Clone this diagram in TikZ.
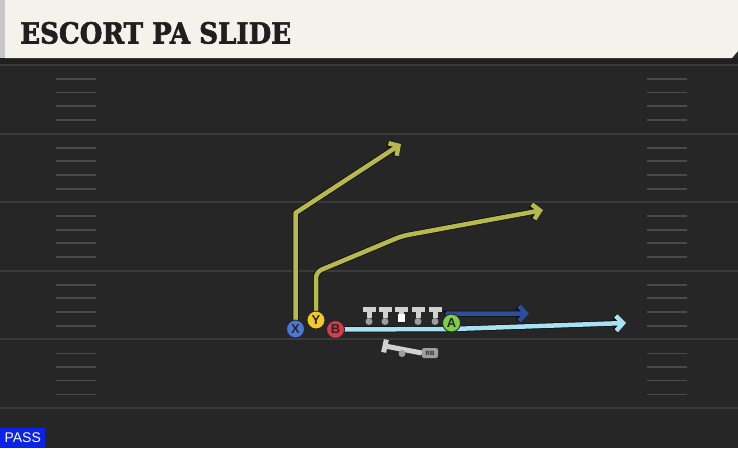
\documentclass[tikz,border=0pt]{standalone}
\usepackage{fontspec}
\usepackage{graphicx}
\newfontfamily\titlefont[BoldFeatures={FakeBold=2.2}]{DejaVu Serif}
\newfontfamily\labelfont{Liberation Sans}
\usetikzlibrary{arrows.meta,calc}
\definecolor{fieldbg}{HTML}{262626}
\definecolor{bannerbg}{HTML}{F4F2EA}
\definecolor{lineink}{HTML}{3A3A3A}
\definecolor{xblue}{HTML}{4A78D8}
\definecolor{yyellow}{HTML}{F5C82A}
\definecolor{bred}{HTML}{D93A45}
\definecolor{agreen}{HTML}{7BD146}
\definecolor{olive}{HTML}{B7B94D}
\definecolor{navy}{HTML}{2C4E9C}
\definecolor{skyblue}{HTML}{A6E2F4}
\definecolor{passblue}{HTML}{0B23E6}
\pgfdeclarelayer{field}
\pgfdeclarelayer{routes}
\pgfsetlayers{field,routes,main}
\tikzstyle{yardline} = [draw=lineink, line width=2pt]
\tikzstyle{hashmark} = [draw=lineink!92!white, line width=1.8pt]
\tikzstyle{player} = [circle, draw=black!85, line width=0.9pt, minimum size=18pt,
    inner sep=0pt, text=black!85, font=\labelfont\bfseries\fontsize{13}{13}\selectfont]
\tikzstyle{route} = [line width=4.5pt, line join=round,
    -{Straight Barb[length=7pt,width=15pt]}, preaction={draw=black!95, line width=6pt}]
\tikzstyle{tbar} = [rectangle, fill=black!18, minimum width=13pt, minimum height=5pt, inner sep=0pt]
\tikzstyle{tfoot} = [circle, fill=black!38, minimum size=7pt, inner sep=0pt]
\tikzstyle{tstem} = [draw=black!18, line width=5pt]

\begin{document}
\begin{tikzpicture}[x=1pt, y=-1pt]
    \useasboundingbox (0,0) rectangle (738,448);
    % Field
    \begin{pgfonlayer}{field}
    \fill[fieldbg] (0,0) rectangle (738,448);
    \fill[black!88] (0,58) rectangle (738,64);
    \fill[black!22] (0,0) rectangle (5,58);
    \fill[bannerbg] (5,0) -- (738,0) -- (738,51) -- (732,58) -- (5,58) -- cycle;
    \foreach \k in {0,...,5} {
        \path[yardline] (0,65+68.6*\k) -- (738,65+68.6*\k);
    }
    \foreach \k in {0,...,4} {
        \foreach \d in {14,27.5,41,55} {
            \path[hashmark] (56,65+68.6*\k+\d) -- (96,65+68.6*\k+\d);
            \path[hashmark] (647,65+68.6*\k+\d) -- (687,65+68.6*\k+\d);
        }
    }
    \end{pgfonlayer}
    % Title and tag
    \node[anchor=base west, inner sep=0pt, text=black!88,
        font=\titlefont\bfseries\fontsize{29}{29}\selectfont] (title) at (20,43.5)
        {\scalebox{0.9}[1]{ESCORT PA SLIDE}};
    \node[anchor=south west, fill=passblue, text=white, minimum width=45pt, minimum height=20pt,
        inner sep=0pt, font=\labelfont\fontsize{14}{14}\selectfont] (playtype) at (0,448) {PASS};
    % Place players
    \node[player, fill=xblue] (X) at (295.5,329) {X};
    \node[player, fill=yyellow] (Y) at (316,320) {Y};
    \node[player, fill=bred] (B) at (335.5,329.5) {B};
    \node[player, fill=agreen] (A) at (451.5,323) {A};
    % Offensive line
    \foreach \x/\n in {369/lt,385/lg,418/rg,435/rt} {
        \node[tbar] (\n bar) at (\x,309.5) {};
        \node[tfoot] (\n foot) at (\x,321.5) {};
        \path[tstem] (\n bar.south) -- (\n foot.north);
    }
    \node[tbar] (cbar) at (401.5,309.5) {};
    \node[rectangle, fill=white, minimum width=7.5pt, minimum height=8.5pt, inner sep=0pt] (cfoot) at (401.5,318) {};
    \path[tstem] (cbar.south) -- (cfoot.north);
    % Running back
    \node[rounded corners=2pt, fill=black!38, minimum width=16pt, minimum height=10pt, inner sep=0pt,
        text=black!85, font=\labelfont\bfseries\fontsize{6}{6}\selectfont] (rblabel) at (430,353) {RB};
    \node[tbar, minimum width=5pt, minimum height=13pt, rotate=-12] (rbbar) at (385,346) {};
    \path[tstem] (rbbar.center) -- (rblabel.west);
    \node[tfoot] (rbfoot) at (402,353.5) {};
    % Routes
    \coordinate (xbreak) at (295.5,213);
    \coordinate (xend) at (401,144);
    \coordinate (ybreak) at (316,272);
    \coordinate (ybend) at (402,236);
    \coordinate (yend) at (543,210);
    \coordinate (aend) at (529,313.5);
    \coordinate (bbend) at (452,329);
    \coordinate (bend) at (626,323);
    \begin{pgfonlayer}{routes}
    \path[route, draw=olive] (X.center) -- (xbreak) -- (xend);
    \path[route, draw=olive, rounded corners=6pt] (Y.center) -- (ybreak) -- (ybend) -- (yend);
    \path[route, draw=navy] (A.center) -- ++(-4,-9.5) -- (aend);
    \path[route, draw=skyblue] (B.center) -- (bbend) -- (bend);
    \end{pgfonlayer}
\end{tikzpicture}
\end{document}
